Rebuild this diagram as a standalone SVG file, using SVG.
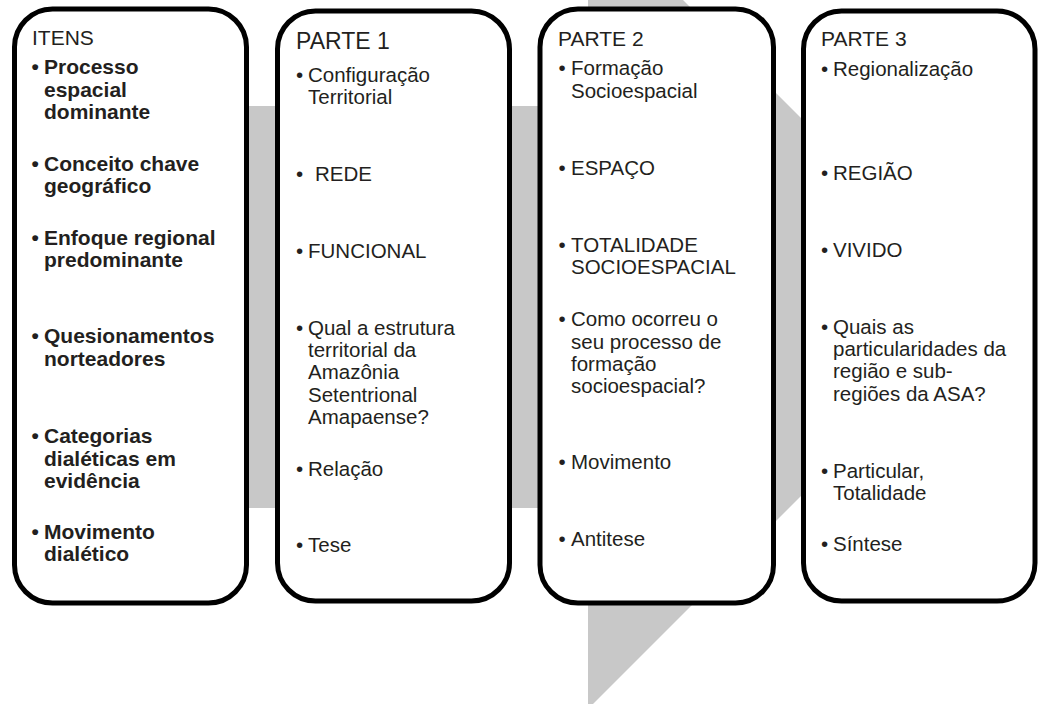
<svg xmlns="http://www.w3.org/2000/svg" width="1038" height="704" viewBox="0 0 1038 704">
<style>
.box{fill:#fff;stroke:#000;stroke-width:5}
.t{font-family:"Liberation Sans",Arial,sans-serif;fill:#231f20}
.h{font-size:21px}
.b{font-size:21px;font-weight:bold}
.r{font-size:20.5px}
</style>
<rect width="1038" height="704" fill="#fff"/>
<g id="connectors">
<path d="M150,106 H588 V-95 L990,307 L588,709 V508 H150 Z" fill="#c8c8c8"/>
</g>
<g id="itens">
<rect class="box" x="14.5" y="9" width="232" height="594" rx="38"/>
<text class="t h" x="32" y="45">ITENS</text>
<text class="t b"><tspan x="31.5" y="74">•</tspan><tspan x="44" y="74">Processo</tspan><tspan x="44" y="96.5">espacial</tspan><tspan x="44" y="119">dominante</tspan></text>
<text class="t b"><tspan x="31.5" y="170.5">•</tspan><tspan x="44" y="170.5">Conceito chave</tspan><tspan x="44" y="193">geográfico</tspan></text>
<text class="t b"><tspan x="31.5" y="245">•</tspan><tspan x="44" y="245">Enfoque regional</tspan><tspan x="44" y="267">predominante</tspan></text>
<text class="t b"><tspan x="31.5" y="343">•</tspan><tspan x="44" y="343">Quesionamentos</tspan><tspan x="44" y="365.5">norteadores</tspan></text>
<text class="t b"><tspan x="31.5" y="443">•</tspan><tspan x="44" y="443">Categorias</tspan><tspan x="44" y="465.5">dialéticas em</tspan><tspan x="44" y="487.5">evidência</tspan></text>
<text class="t b"><tspan x="31.5" y="539">•</tspan><tspan x="44" y="539">Movimento</tspan><tspan x="44" y="561">dialético</tspan></text>
</g>
<g id="parte1">
<rect class="box" x="277.5" y="11" width="232" height="590" rx="38"/>
<text class="t" style="font-size:23px" x="296" y="49">PARTE 1</text>
<text class="t r"><tspan x="296" y="82">•</tspan><tspan x="308" y="82">Configuração</tspan><tspan x="308" y="103.5">Territorial</tspan></text>
<text class="t r"><tspan x="296" y="181">•</tspan><tspan x="315" y="181">REDE</tspan></text>
<text class="t r"><tspan x="296" y="258">•</tspan><tspan x="308" y="258">FUNCIONAL</tspan></text>
<text class="t r"><tspan x="296" y="334.5">•</tspan><tspan x="308" y="334.5">Qual a estrutura</tspan><tspan x="308" y="356.5">territorial da</tspan><tspan x="308" y="379">Amazônia</tspan><tspan x="308" y="401.5">Setentrional</tspan><tspan x="308" y="424">Amapaense?</tspan></text>
<text class="t r"><tspan x="296" y="475.5">•</tspan><tspan x="308" y="475.5">Relação</tspan></text>
<text class="t r"><tspan x="296" y="552">•</tspan><tspan x="308" y="552">Tese</tspan></text>
</g>
<g id="parte2">
<rect class="box" x="540" y="9" width="233.5" height="594" rx="38"/>
<text class="t h" x="558" y="45.5">PARTE 2</text>
<text class="t r"><tspan x="558.5" y="75">•</tspan><tspan x="571" y="75">Formação</tspan><tspan x="571" y="97.5">Socioespacial</tspan></text>
<text class="t r"><tspan x="558.5" y="175">•</tspan><tspan x="571" y="175">ESPAÇO</tspan></text>
<text class="t r"><tspan x="558.5" y="251.5">•</tspan><tspan x="571" y="251.5">TOTALIDADE</tspan><tspan x="571" y="274">SOCIOESPACIAL</tspan></text>
<text class="t r"><tspan x="558.5" y="326">•</tspan><tspan x="571" y="326">Como ocorreu o</tspan><tspan x="571" y="348.5">seu processo de</tspan><tspan x="571" y="370.5">formação</tspan><tspan x="571" y="392.5">socioespacial?</tspan></text>
<text class="t r"><tspan x="558.5" y="469">•</tspan><tspan x="571" y="469">Movimento</tspan></text>
<text class="t r"><tspan x="558.5" y="545.5">•</tspan><tspan x="571" y="545.5">Antitese</tspan></text>
</g>
<g id="parte3">
<rect class="box" x="803.5" y="11" width="231.5" height="590" rx="38"/>
<text class="t h" x="821" y="46">PARTE 3</text>
<text class="t r"><tspan x="821" y="76">•</tspan><tspan x="833" y="76">Regionalização</tspan></text>
<text class="t r"><tspan x="821" y="180">•</tspan><tspan x="833" y="180">REGIÃO</tspan></text>
<text class="t r"><tspan x="821" y="256.5">•</tspan><tspan x="833" y="256.5">VIVIDO</tspan></text>
<text class="t r"><tspan x="821" y="333.5">•</tspan><tspan x="833" y="333.5">Quais as</tspan><tspan x="833" y="355.5">particularidades da</tspan><tspan x="833" y="378">região e sub-</tspan><tspan x="833" y="400.5">regiões da ASA?</tspan></text>
<text class="t r"><tspan x="821" y="478">•</tspan><tspan x="833" y="478">Particular,</tspan><tspan x="833" y="500">Totalidade</tspan></text>
<text class="t r"><tspan x="821" y="550.5">•</tspan><tspan x="833" y="550.5">Síntese</tspan></text>
</g>
</svg>
